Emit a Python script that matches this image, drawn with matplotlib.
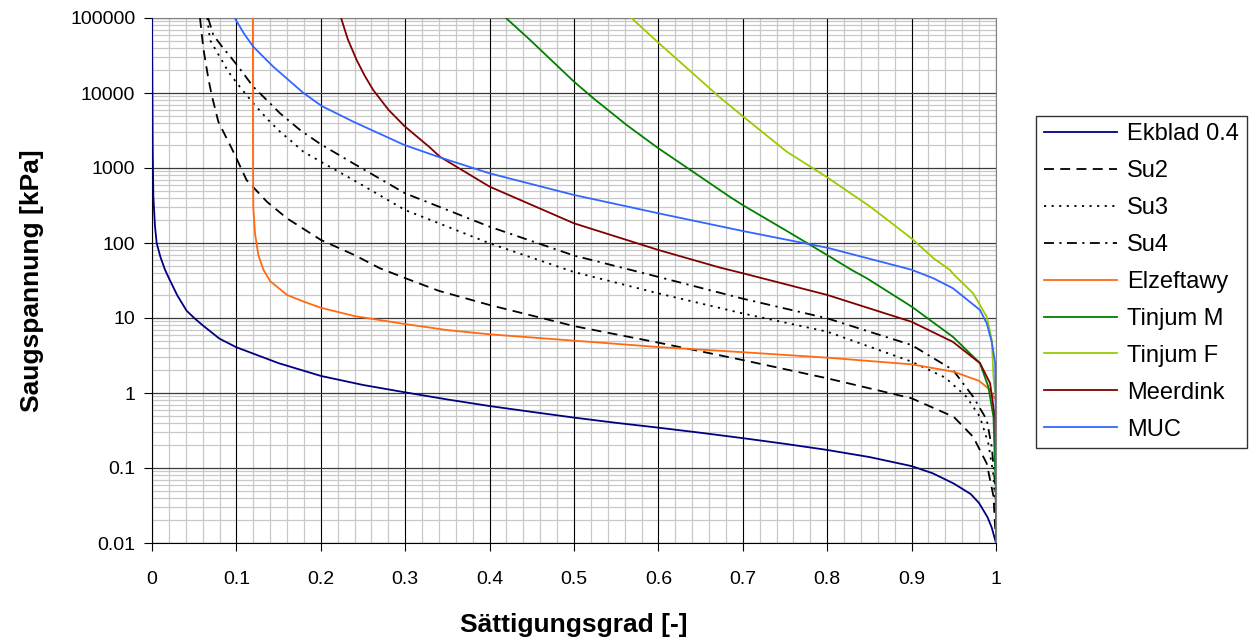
import matplotlib
matplotlib.use("Agg")
import matplotlib.pyplot as plt
from matplotlib.ticker import FixedLocator, NullLocator

# ---------------- data ----------------
ekblad_x = [0.0, 0.0008, 0.0016, 0.0035, 0.0055, 0.01, 0.0154, 0.02, 0.03, 0.041, 0.05,
            0.06, 0.08, 0.1, 0.15, 0.2, 0.25, 0.3, 0.35, 0.4, 0.45, 0.5, 0.55, 0.6, 0.65,
            0.7, 0.75, 0.8, 0.85, 0.9, 0.925, 0.95, 0.97, 0.98, 0.99, 0.995, 1.0]
ekblad_y = [100000, 2000, 420, 170, 100, 65, 44, 34, 20, 12.5, 10,
            8.0, 5.3, 4.07, 2.5, 1.69, 1.28, 1.02, 0.82, 0.67, 0.56, 0.47, 0.40, 0.345, 0.295,
            0.25, 0.21, 0.174, 0.14, 0.106, 0.085, 0.062, 0.045, 0.034, 0.022, 0.016, 0.01]

su2_x = [0.0569, 0.0608, 0.0667, 0.0707, 0.0786, 0.0865, 0.0944, 0.1, 0.112, 0.136, 0.16,
         0.2, 0.24, 0.27, 0.3, 0.34, 0.4, 0.5, 0.6, 0.7, 0.8, 0.9, 0.95, 0.973, 0.989,
         0.997, 1.0]
su2_y = [100000, 39500, 15700, 9400, 4140, 2750, 1830, 1350, 692, 356, 213,
         110, 69, 46, 34, 23, 14.9, 7.8, 4.69, 2.75, 1.57, 0.85, 0.48, 0.26, 0.115,
         0.042, 0.01]

su3_x = [0.0655, 0.0687, 0.0767, 0.0826, 0.0904, 0.1023, 0.12, 0.1378, 0.1517, 0.1635,
         0.1793, 0.2, 0.2386, 0.3, 0.34, 0.4, 0.5, 0.6, 0.7, 0.8, 0.9, 0.94, 0.965,
         0.981, 0.991, 0.997, 1.0]
su3_y = [100000, 50900, 35600, 27500, 19200, 12800, 7280, 4360, 3050, 2360,
         1650, 1213, 692, 275, 183, 99, 41, 21.3, 11.5, 6.57, 2.62, 1.6, 0.89,
         0.48, 0.21, 0.08, 0.02]

su4_x = [0.0665, 0.0726, 0.0845, 0.0944, 0.1023, 0.12, 0.1359, 0.1517, 0.1754, 0.2,
         0.2386, 0.3, 0.34, 0.4, 0.5, 0.6, 0.7, 0.8, 0.9, 0.949, 0.973, 0.989, 0.995,
         0.999, 1.0]
su4_y = [100000, 59300, 39500, 29000, 22400, 12100, 8070, 5360, 3210, 2070,
         1150, 459, 305, 165, 68, 35.3, 18.1, 9.9, 4.36, 2.03, 0.89, 0.44, 0.19,
         0.06, 0.03]

elz_x = [0.1195, 0.1197, 0.12, 0.122, 0.126, 0.132, 0.14, 0.16, 0.18, 0.2, 0.24, 0.3,
         0.35, 0.4, 0.5, 0.6, 0.7, 0.8, 0.9, 0.95, 0.98, 0.993, 0.998]
elz_y = [100000, 1000, 300, 135, 69, 44, 31, 20.3, 16.5, 13.7, 10.6, 8.3,
         6.9, 6.06, 4.99, 4.1, 3.5, 2.96, 2.41, 1.92, 1.45, 1.1, 0.85]

tm_x = [0.4194, 0.448, 0.5, 0.523, 0.5624, 0.6, 0.637, 0.685, 0.7, 0.752, 0.8, 0.829,
        0.847, 0.9, 0.949, 0.981, 0.991, 0.997, 0.999, 1.0]
tm_y = [100000, 50900, 14160, 8500, 3740, 1830, 956, 410, 320, 145, 69, 43.7,
        33.8, 14.2, 5.6, 2.5, 1.2, 0.48, 0.093, 0.05]

tf_x = [0.568, 0.6, 0.645, 0.673, 0.7, 0.752, 0.8, 0.851, 0.9, 0.926, 0.9455, 0.95,
        0.973, 0.989, 0.995, 0.997, 0.999]
tf_y = [100000, 46800, 16600, 8700, 4900, 1650, 751, 305, 115, 62.5, 43.7, 38,
        21.3, 10.4, 5.1, 1.65, 1.0]

md_x = [0.224, 0.232, 0.2425, 0.252, 0.262, 0.28, 0.299, 0.329, 0.341, 0.4, 0.5, 0.6,
        0.673, 0.7, 0.8, 0.9, 0.949, 0.981, 0.993, 0.999, 1.0]
md_y = [100000, 52000, 27500, 17000, 11000, 6000, 3630, 1890, 1416, 564, 183, 80.7,
        47, 39.5, 20.3, 8.9, 4.8, 2.5, 1.35, 0.44, 0.15]

muc_x = [0.098, 0.109, 0.12, 0.1437, 0.179, 0.201, 0.2386, 0.299, 0.341, 0.4, 0.5, 0.6,
         0.7, 0.8, 0.9, 0.926, 0.949, 0.981, 0.989, 0.995, 0.999, 0.9995, 1.0]
muc_y = [100000, 62000, 41400, 22400, 10100, 6710, 4140, 2027, 1387, 849, 437, 249,
         144.5, 86.5, 44, 33.8, 24.9, 12.8, 8.5, 4.8, 2.5, 1.0, 0.01]

series_names = ["Ekblad 0.4", "Su2", "Su3", "Su4", "Elzeftawy",
                "Tinjum M", "Tinjum F", "Meerdink", "MUC"]
x_ticks = [0, 0.1, 0.2, 0.3, 0.4, 0.5, 0.6, 0.7, 0.8, 0.9, 1]
x_tick_labels = ["0", "0.1", "0.2", "0.3", "0.4", "0.5", "0.6", "0.7", "0.8", "0.9", "1"]
y_ticks = [0.01, 0.1, 1, 10, 100, 1000, 10000, 100000]
y_tick_labels = ["0.01", "0.1", "1", "10", "100", "1000", "10000", "100000"]
x_label = "Sättigungsgrad [-]"
y_label = "Saugspannung [kPa]"

# ---------------- figure ----------------
plt.rcParams['font.family'] = ['Liberation Sans', 'DejaVu Sans']

W, H = 1258, 641
fig = plt.figure(figsize=(W / 100, H / 100), dpi=100)
ax = fig.add_axes([152 / W, 1 - 543 / H, (996 - 152) / W, (543 - 18) / H])

ax.set_yscale('log')
ax.set_xlim(0, 1)
ax.set_ylim(0.01, 100000)

ax.xaxis.set_major_locator(FixedLocator(x_ticks))
ax.yaxis.set_major_locator(FixedLocator(y_ticks))
ax.xaxis.set_minor_locator(NullLocator())
ax.yaxis.set_minor_locator(NullLocator())
ax.set_xticklabels(x_tick_labels)
ax.set_yticklabels(y_tick_labels)

# minor grid (light) drawn beneath the major grid
minor_x = [i * 0.02 for i in range(1, 50) if i % 5 != 0]
minor_y = [m * 10.0 ** e for e in range(-2, 5) for m in range(2, 10)]
for v in minor_x:
    ax.axvline(v, color='#c8c8c8', linewidth=0.9, zorder=0.2)
for v in minor_y:
    ax.axhline(v, color='#c8c8c8', linewidth=0.9, zorder=0.2)

ax.set_axisbelow(True)
ax.grid(which='major', axis='x', color='#000000', linewidth=0.8)
ax.grid(which='major', axis='y', color='#3a3a3a', linewidth=0.9)

ax.tick_params(which='major', direction='out', length=6, width=0.8, labelsize=14)
ax.tick_params(axis='x', pad=14)
ax.tick_params(axis='y', pad=6)

for s in ['top', 'right']:
    ax.spines[s].set_color('#808080')
for s in ['left', 'bottom']:
    ax.spines[s].set_color('#000000')

lw = 1.3
ax.plot(ekblad_x, ekblad_y, color='#000080', lw=lw, label=series_names[0], zorder=3)
ax.plot(su2_x, su2_y, color='black', lw=lw, dashes=(5.5, 3.5), label=series_names[1], zorder=3)
ax.plot(su3_x, su3_y, color='black', lw=lw, dashes=(1.2, 3.0), label=series_names[2], zorder=3)
ax.plot(su4_x, su4_y, color='black', lw=lw, dashes=(5.5, 3.0, 1.2, 3.0), label=series_names[3], zorder=3)
ax.plot(elz_x, elz_y, color='#FF6A13', lw=lw, label=series_names[4], zorder=3)
ax.plot(tm_x, tm_y, color='#008000', lw=lw, label=series_names[5], zorder=3)
ax.plot(tf_x, tf_y, color='#99CC00', lw=lw, label=series_names[6], zorder=3)
ax.plot(md_x, md_y, color='#800000', lw=lw, label=series_names[7], zorder=3)
ax.plot(muc_x, muc_y, color='#3366FF', lw=lw, label=series_names[8], zorder=3)

ax.set_xlabel(x_label, fontsize=19, fontweight='bold', labelpad=18)
ax.set_ylabel(y_label, fontsize=19, fontweight='bold', labelpad=19)

leg = fig.legend(loc='center left', bbox_to_anchor=(1036 / W, 1 - 282 / H),
                 fontsize=17, frameon=True, fancybox=False, edgecolor='black',
                 handlelength=3.1, handletextpad=0.45, labelspacing=0.63,
                 borderpad=0.32, borderaxespad=0)
leg.get_frame().set_linewidth(1.0)

fig.savefig('out.png', dpi=100)
